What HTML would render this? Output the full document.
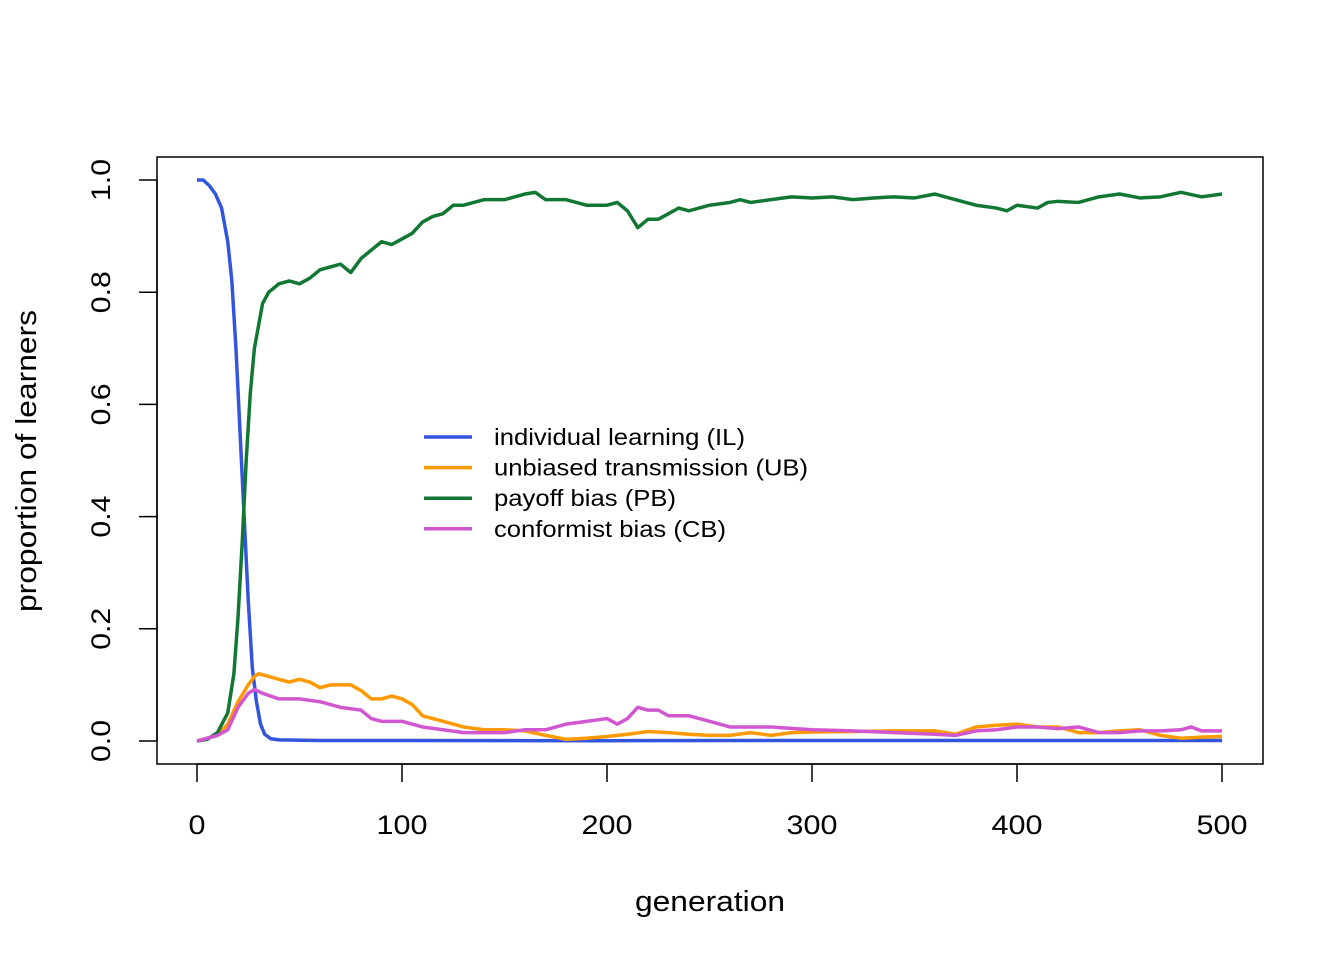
<!DOCTYPE html>
<html><head><meta charset="utf-8"><style>
body{margin:0;background:#fff}
svg{display:block;font-family:"Liberation Sans",sans-serif}
</style></head><body>
<svg id="chart" width="1344" height="960">
<rect x="157" y="157" width="1106" height="607" fill="none" stroke="#000" stroke-width="1.5"/>
<g id="xaxis"></g>
<g id="yaxis"></g>
<text x="710" y="911" font-size="29" text-anchor="middle" textLength="150" lengthAdjust="spacingAndGlyphs">generation</text>
<text transform="translate(36,461) rotate(-90)" font-size="29" text-anchor="middle" textLength="302" lengthAdjust="spacingAndGlyphs">proportion of learners</text>
<g id="series"></g>
<g id="legend"></g>
</svg>
<script>
const xTicks=[0,100,200,300,400,500];
const yTicks=[0,0.2,0.4,0.6,0.8,1.0];
const yTickLabels=["0.0","0.2","0.4","0.6","0.8","1.0"];
const ilGen=[0,3,6,9,12,15,17,19,21,23,25,27,29,31,33,36,40,60,100,200,300,400,500];
const ilVal=[1,1,0.99,0.975,0.95,0.89,0.82,0.7,0.55,0.4,0.25,0.13,0.07,0.03,0.012,0.004,0.002,0.001,0.001,0.0005,0.001,0.001,0.001];
const ubGen=[0,10,15,20,25,28,30,35,40,45,50,55,60,65,70,75,80,85,90,95,100,105,110,115,120,130,140,150,160,170,180,190,200,210,220,230,240,250,260,270,280,290,300,320,340,360,370,380,390,400,410,420,430,440,450,460,470,480,490,500];
const ubVal=[0,0.01,0.03,0.07,0.1,0.115,0.12,0.115,0.11,0.105,0.11,0.105,0.095,0.1,0.1,0.1,0.09,0.075,0.075,0.08,0.075,0.065,0.045,0.04,0.035,0.025,0.02,0.02,0.018,0.01,0.003,0.005,0.008,0.012,0.017,0.015,0.012,0.01,0.01,0.015,0.01,0.015,0.016,0.017,0.018,0.018,0.012,0.025,0.028,0.03,0.025,0.025,0.015,0.015,0.018,0.02,0.01,0.005,0.007,0.008];
const pbGen=[0,5,10,15,18,20,22,24,26,28,30,32,35,40,45,50,55,60,65,70,75,80,85,90,95,100,105,110,115,120,125,130,140,150,160,165,170,180,190,200,205,210,215,220,225,230,235,240,250,260,265,270,280,290,300,310,320,330,340,350,360,370,380,390,395,400,410,415,420,430,440,450,460,470,480,490,500];
const pbVal=[0,0.003,0.015,0.05,0.12,0.22,0.35,0.5,0.62,0.7,0.74,0.78,0.8,0.815,0.82,0.815,0.825,0.84,0.845,0.85,0.835,0.86,0.875,0.89,0.885,0.895,0.905,0.925,0.935,0.94,0.955,0.955,0.965,0.965,0.975,0.978,0.965,0.965,0.955,0.955,0.96,0.945,0.915,0.93,0.93,0.94,0.95,0.945,0.955,0.96,0.965,0.96,0.965,0.97,0.968,0.97,0.965,0.968,0.97,0.968,0.975,0.965,0.955,0.95,0.945,0.955,0.95,0.96,0.962,0.96,0.97,0.975,0.968,0.97,0.978,0.97,0.975];
const cbGen=[0,10,15,20,25,28,32,40,50,60,70,80,85,90,100,110,120,130,140,150,160,170,180,190,200,205,210,215,220,225,230,240,250,260,270,280,300,320,340,360,370,380,390,400,410,420,430,440,450,460,470,480,485,490,500];
const cbVal=[0,0.01,0.02,0.06,0.085,0.092,0.085,0.075,0.075,0.07,0.06,0.055,0.04,0.035,0.035,0.025,0.02,0.015,0.015,0.015,0.02,0.02,0.03,0.035,0.04,0.03,0.04,0.06,0.055,0.055,0.045,0.045,0.035,0.025,0.025,0.025,0.02,0.018,0.015,0.012,0.01,0.018,0.02,0.025,0.025,0.022,0.025,0.015,0.015,0.018,0.018,0.02,0.025,0.018,0.018];
const seriesNames=["individual learning (IL)","unbiased transmission (UB)","payoff bias (PB)","conformist bias (CB)"];
const legendWidths=[251,314,182,232];
const colors=["#3355dd","#ff9900","#117733","#d157d1"];
const X=v=>197+v*2.05, Y=v=>741-v*561;
const NS="http://www.w3.org/2000/svg";
function mk(t,a,p){const e=document.createElementNS(NS,t);for(const k in a)e.setAttribute(k,a[k]);p.appendChild(e);return e;}
const xa=document.getElementById('xaxis');
mk('line',{x1:X(0),x2:X(500),y1:764,y2:764,stroke:'#000','stroke-width':1.5},xa);
xTicks.forEach(t=>{mk('line',{x1:X(t),x2:X(t),y1:764,y2:782,stroke:'#000','stroke-width':1.5},xa);
const s=String(t);
const tx=mk('text',{x:X(t),y:834,'font-size':27,'text-anchor':'middle',textLength:17*s.length,lengthAdjust:'spacingAndGlyphs'},xa);tx.textContent=s;

});
const ya=document.getElementById('yaxis');
mk('line',{x1:157,x2:157,y1:Y(0),y2:Y(1),stroke:'#000','stroke-width':1.5},ya);
yTicks.forEach((t,i)=>{mk('line',{x1:139,x2:157,y1:Y(t),y2:Y(t),stroke:'#000','stroke-width':1.5},ya);
const tx=mk('text',{transform:`translate(110,${Y(t)}) rotate(-90)`,'font-size':27,'text-anchor':'middle',textLength:42,lengthAdjust:'spacingAndGlyphs'},ya);tx.textContent=yTickLabels[i];

});
const sg=document.getElementById('series');
const data=[[ilGen,ilVal],[ubGen,ubVal],[pbGen,pbVal],[cbGen,cbVal]];
[0,1,2,3].forEach(i=>{const [g,v]=data[i];
const p=mk('polyline',{points:g.map((x,j)=>X(x)+','+Y(v[j])).join(' '),fill:'none',stroke:colors[i],'stroke-width':3.5,'stroke-linejoin':'round'},sg);

});
const lg=document.getElementById('legend');
seriesNames.forEach((n,i)=>{const y=437+i*30.6;
const l=mk('line',{x1:424,x2:472,y1:y,y2:y,stroke:colors[i],'stroke-width':3.5},lg);


const t=mk('text',{x:494,y:y+8,'font-size':23,textLength:legendWidths[i],lengthAdjust:'spacingAndGlyphs'},lg);t.textContent=n;

});
</script>
</body></html>
